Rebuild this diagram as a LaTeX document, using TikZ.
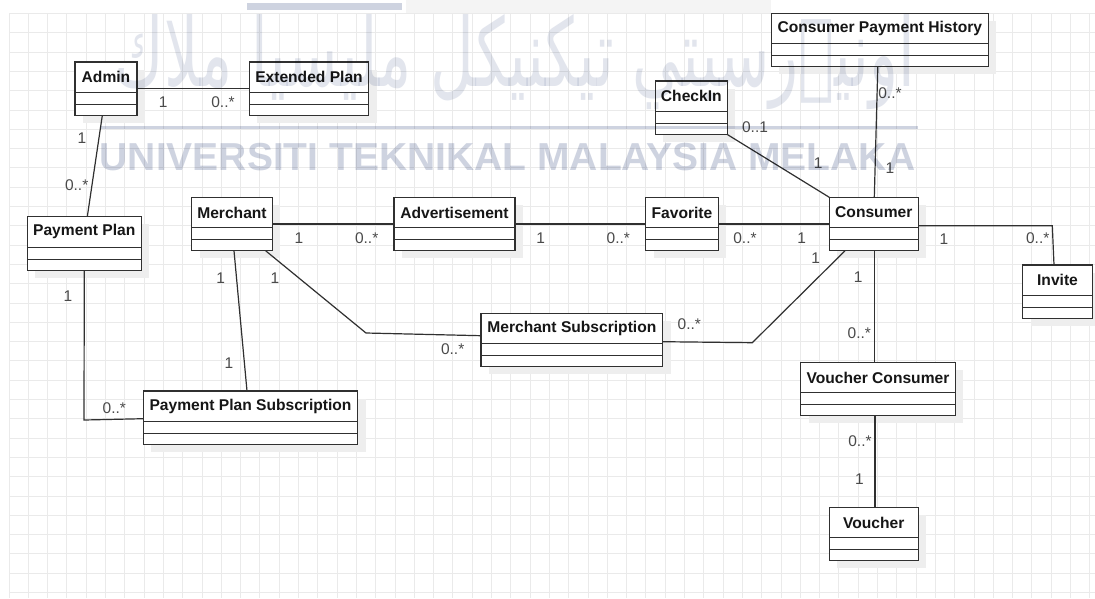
\documentclass[tikz,border=0pt]{standalone}
\usepackage{fontspec}
\usepackage{graphicx}
\setmainfont{Liberation Sans}
\newfontfamily\arabicfont[Script=Arabic]{DejaVu Sans}
\TeXXeTstate=1
\usetikzlibrary{calc}

\definecolor{gridc}{RGB}{234,234,234}
\definecolor{edgec}{RGB}{48,48,48}
\definecolor{shadowc}{RGB}{238,238,238}
\definecolor{multc}{RGB}{74,74,74}
\definecolor{titlec}{RGB}{22,22,22}
\definecolor{wmark}{RGB}{206,211,224}
\definecolor{wmarklight}{RGB}{226,229,237}
\definecolor{panelc}{RGB}{244,244,244}

\tikzset{
  clsbox/.style={draw=edgec, line width=1.3pt, fill=white, inner sep=0pt, outer sep=0pt, rectangle},
  clstitle/.style={font=\fontsize{15.6}{18}\selectfont\bfseries, text=titlec, inner sep=0pt},
  mult/.style={font=\fontsize{15.5}{18}\selectfont, text=multc, inner sep=0pt},
  assoc/.style={draw=edgec, line width=1.2pt},
  gridline/.style={draw=gridc, line width=1pt},
  wmtext/.style={font=\fontsize{39}{40}\selectfont\bfseries, text=wmark, inner sep=0pt},
}

% UML class: name, left, top, right, title (three compartments)
\newcommand\umlclass[5]{%
  \fill[shadowc] ({#2+8},{#3+7.5}) rectangle ({#4+8},{#3+61});
  \node[clsbox, anchor=north west, minimum width={#4-#2}, minimum height=53.5] (#1) at (#2,#3) {};
  \draw[edgec, line width=1.3pt]
    ([yshift=-30.5pt]#1.north west) -- ([yshift=-30.5pt]#1.north east)
    ([yshift=-42.5pt]#1.north west) -- ([yshift=-42.5pt]#1.north east);
  \node[clstitle] (#1-title) at ([yshift=-15.25pt]#1.north) {#5};
}

\begin{document}
\begin{tikzpicture}[x=1pt, y=-1pt]
\useasboundingbox (0,0) rectangle (1095,598);
\fill[white] (0,0) rectangle (1095,598);

% background grid
\foreach \i in {0,...,56} {
  \draw[gridline] ({9+19.3*\i},13.5) -- ({9+19.3*\i},598);
}
\foreach \j in {0,...,30} {
  \draw[gridline] (9,{13.5+19.3*\j}) -- (1095,{13.5+19.3*\j});
}

% classes
\umlclass{admin}{75}{62}{137}{Admin}
\umlclass{ext}{249.3}{62}{368.7}{Extended Plan}
\umlclass{cph}{771.3}{13.3}{988.3}{Consumer Payment History}
\umlclass{checkin}{655.3}{81}{727.3}{CheckIn}
\umlclass{pp}{27.3}{216.7}{141.3}{Payment Plan}
\umlclass{merchant}{191.7}{197.3}{272.3}{Merchant}
\umlclass{adv}{394}{197.3}{515}{Advertisement}
\umlclass{fav}{645.7}{197.3}{718.3}{Favorite}
\umlclass{consumer}{829.3}{197.3}{918.3}{Consumer}
\umlclass{invite}{1022.7}{265}{1092.3}{Invite}
\umlclass{ms}{481}{313.3}{662.7}{Merchant Subscription}
\umlclass{pps}{143.3}{391}{357.7}{Payment Plan Subscription}
\umlclass{vc}{800.7}{362.3}{955.3}{Voucher Consumer}
\umlclass{voucher}{829.3}{507.3}{918.3}{Voucher}

% bend points
\coordinate (ci-bend) at (1052.3,225.7);
\coordinate (cm-bend) at (752.3,342.7);
\coordinate (mm-bend) at (366,333);
\coordinate (pp-bend) at (84,420);

% associations
\draw[assoc] ([yshift=-26.3pt]admin.north east) -- ([yshift=-26.3pt]ext.north west);
\draw[assoc] ([xshift=-3.7pt]admin.south) -- ([xshift=3pt]pp.north);
\draw[assoc] ([yshift=-26.7pt]merchant.north east) -- ([yshift=-26.7pt]adv.north west);
\draw[assoc] ([yshift=-26.7pt]adv.north east) -- ([yshift=-26.7pt]fav.north west);
\draw[assoc] ([yshift=-26.7pt]fav.north east) -- ([yshift=-26.7pt]consumer.north west);
\draw[assoc] ([yshift=-28.4pt]consumer.north east) -- (ci-bend) -- ([xshift=-3.5pt]invite.north);
\draw[assoc] ([xshift=-2pt]cph.south) -- ([xshift=0.5pt]consumer.north);
\draw[assoc] (checkin.south east) -- (consumer.north west);
\draw[assoc] ([xshift=0.5pt]consumer.south) -- ([xshift=-3.7pt]vc.north);
\draw[assoc] ([xshift=-3pt]vc.south) -- ([xshift=1.2pt]voucher.north);
\draw[assoc] ([xshift=-28.8pt]consumer.south) -- (cm-bend) -- ([yshift=-28.4pt]ms.north east);
\draw[assoc] ([xshift=33.7pt]merchant.south) -- (mm-bend) -- ([yshift=-22.4pt]ms.north west);
\draw[assoc] ([xshift=2pt]merchant.south) -- ([xshift=-3.5pt]pps.north);
\draw[assoc] (pp.south) -- (pp-bend) -- ([yshift=-27.7pt]pps.north west);

% multiplicities
\node[mult] (m1)  at (163.3,102) {1};
\node[mult] (m2)  at (223,102) {0..*};
\node[mult] (m3)  at (82,138) {1};
\node[mult] (m4)  at (76.7,185) {0..*};
\node[mult] (m5)  at (299,238.3) {1};
\node[mult] (m6)  at (366.7,238.3) {0..*};
\node[mult] (m7)  at (540.7,238.3) {1};
\node[mult] (m8)  at (618.3,238.3) {0..*};
\node[mult] (m9)  at (745,238.3) {0..*};
\node[mult] (m10) at (801.7,238.3) {1};
\node[mult] (m11) at (944,239) {1};
\node[mult] (m12) at (1037.7,238) {0..*};
\node[mult] (m13) at (890,92.7) {0..*};
\node[mult] (m14) at (890,168.3) {1};
\node[mult] (m15) at (755,126.7) {0..1};
\node[mult] (m16) at (818.3,163.3) {1};
\node[mult] (m17) at (858.3,276.7) {1};
\node[mult] (m18) at (859.3,333.3) {0..*};
\node[mult] (m19) at (815.7,258.3) {1};
\node[mult] (m20) at (689.3,324.3) {0..*};
\node[mult] (m21) at (275,278.3) {1};
\node[mult] (m22) at (452.7,349.3) {0..*};
\node[mult] (m23) at (220.7,277.7) {1};
\node[mult] (m24) at (229,363.3) {1};
\node[mult] (m25) at (68,295.7) {1};
\node[mult] (m26) at (114.3,407.7) {0..*};
\node[mult] (m27) at (860,440.7) {0..*};
\node[mult] (m28) at (859.3,478.7) {1};

% university watermark
\begin{scope}[blend mode=multiply]
  \fill[panelc] (406,0) rectangle (771,13);
  \fill[wmark] (247,3) rectangle (402,10);
  \draw[wmark, line width=3pt] (100,127) -- (918,127);
  \node[wmtext] (wm-latin) at (507.5,156.7) {UNIVERSITI TEKNIKAL MALAYSIA MELAKA};
  \node[inner sep=0pt, text=wmarklight] (wm-jawi) at (515,62)
    {\resizebox{800pt}{72pt}{\arabicfont\beginR اونيۏرسيتي تيكنيكل مليسيا ملاك\endR}};
\end{scope}
\end{tikzpicture}
\end{document}
